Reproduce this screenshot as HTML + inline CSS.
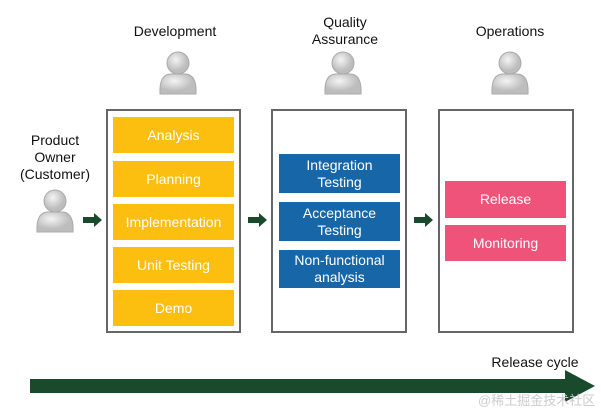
<!DOCTYPE html><html><head><style>
body{margin:0;width:601px;height:410px;background:#fff;position:relative;overflow:hidden;font-family:"Liberation Sans",Arial,sans-serif}
.a{position:absolute}
.box{position:absolute;border:2px solid #666;background:#fff;box-sizing:border-box}
.r{position:absolute;color:#fff;font-size:14px;display:flex;align-items:center;justify-content:center;text-align:center;line-height:17px}
.y{background:#fcbe0f;left:113px;width:121px;height:36px}
.b{background:#1766a8;left:279px;width:121px}
.p{background:#f0537a;left:445px;width:121px}
.t{position:absolute;font-size:14px;color:#111;text-align:center;line-height:17px}
</style></head><body>
<div class="t" style="left:110px;top:23px;width:130px">Development</div>
<div class="t" style="left:290px;top:14px;width:110px">Quality<br>Assurance</div>
<div class="t" style="left:450px;top:23px;width:120px">Operations</div>
<div class="t" style="left:0;top:132px;width:110px">Product<br>Owner<br>(Customer)</div>
<div class="t" style="left:480px;top:354px;width:110px">Release cycle</div>
<svg class="a" style="left:0;top:0" width="601" height="410">
<defs><radialGradient id="g" cx="40%" cy="35%"><stop offset="0" stop-color="#f4f4f4"/><stop offset="1" stop-color="#bdbdbd"/></radialGradient></defs>
<g fill="url(#g)" stroke="#aaa" stroke-width="1">
<g transform="translate(178,72)"><circle cx="0" cy="-9" r="11"/><path d="M-18 22 Q-19 3 -8 2 L8 2 Q19 3 18 22 Z"/></g>
<g transform="translate(343,72)"><circle cx="0" cy="-9" r="11"/><path d="M-18 22 Q-19 3 -8 2 L8 2 Q19 3 18 22 Z"/></g>
<g transform="translate(510,72)"><circle cx="0" cy="-9" r="11"/><path d="M-18 22 Q-19 3 -8 2 L8 2 Q19 3 18 22 Z"/></g>
<g transform="translate(55,210)"><circle cx="0" cy="-9" r="11"/><path d="M-18 22 Q-19 3 -8 2 L8 2 Q19 3 18 22 Z"/></g>
</g>
<g fill="#1a4a2c">
<path d="M83 217h11v-4l8 7-8 7v-4h-11z"/>
<path d="M248 217h11v-4l8 7-8 7v-4h-11z"/>
<path d="M414 217h11v-4l8 7-8 7v-4h-11z"/>
<path d="M30 379h535v-9l30 16-30 16v-9h-535z"/>
</g>
</svg>
<div class="box" style="left:106px;top:109px;width:135px;height:224px"></div>
<div class="box" style="left:271px;top:109px;width:136px;height:224px"></div>
<div class="box" style="left:438px;top:109px;width:136px;height:224px"></div>
<div class="r y" style="top:117px">Analysis</div>
<div class="r y" style="top:161px">Planning</div>
<div class="r y" style="top:204px">Implementation</div>
<div class="r y" style="top:247px">Unit Testing</div>
<div class="r y" style="top:290px">Demo</div>
<div class="r b" style="top:154px;height:39px">Integration<br>Testing</div>
<div class="r b" style="top:202px;height:39px">Acceptance<br>Testing</div>
<div class="r b" style="top:250px;height:38px">Non-functional<br>analysis</div>
<div class="r p" style="top:181px;height:37px">Release</div>
<div class="r p" style="top:225px;height:36px">Monitoring</div>
<div class="a" style="left:478px;top:390px;font-size:13px;color:#ccc;font-family:'Liberation Sans','Noto Sans CJK SC',sans-serif">@稀土掘金技术社区</div>
</body></html>
